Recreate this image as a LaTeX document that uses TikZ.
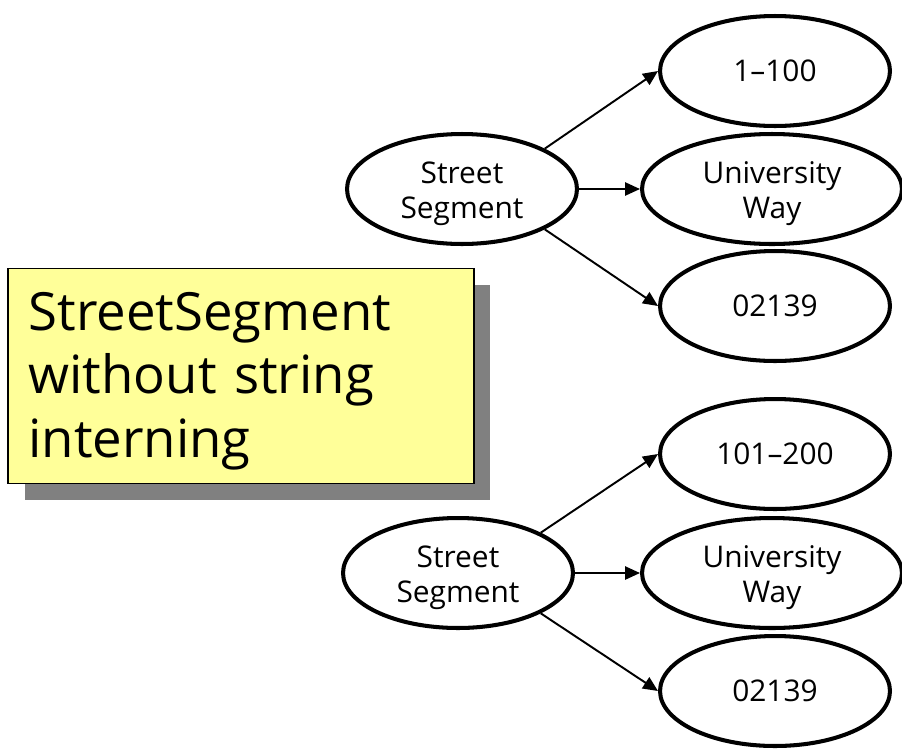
\documentclass[tikz,border=0pt]{standalone}
\usepackage{fontspec}
\setmainfont{Open Sans}
\usetikzlibrary{shapes.geometric,arrows.meta,shadows}
\definecolor{notey}{RGB}{255,255,153}
\definecolor{shadowgray}{RGB}{128,128,128}
\tikzset{
  oval/.style={ellipse, draw, line width=2.3pt, inner sep=0pt, minimum width=4.6cm, minimum height=2.2cm, align=center, font=\fontsize{17}{20}\selectfont},
  wideoval/.style={oval, minimum width=5.2cm},
  ovaltext/.style={align=center, font=\fontsize{17}{20}\selectfont, inner sep=0pt, yshift=-0.1cm},
  conn/.style={line width=1.1pt, -{Triangle[length=8.5pt,width=7.5pt]}},
  note/.style={rectangle, draw, line width=1pt, fill=notey, minimum width=9.32cm, minimum height=4.3cm, inner sep=0pt,
    general shadow={fill=shadowgray, draw=none, shadow xshift=0.33cm, shadow yshift=-0.33cm}},
  notetext/.style={text width=8.5cm, align=left, inner sep=0pt, font=\fontsize{30}{36}\selectfont}
}
\begin{document}
\begin{tikzpicture}[x=0.02cm,y=-0.02cm]
\useasboundingbox (0,0) rectangle (902,751);
% note
\node[note] (box) at (241,376) {};
\node[notetext] (boxtext) at ([yshift=-0.1cm]box.center) {StreetSegment\\without string\\interning};
% top group
\node[oval, label={[ovaltext]center:Street\\Segment}] (s1) at (462,189) {};
\node[oval] (a1) at (775,71) {1–100};
\node[wideoval, label={[ovaltext]center:University\\Way}] (b1) at (772,189) {};
\node[oval] (c1) at (775,306) {02139};
\draw[conn] (s1.north east) -- (a1.west);
\draw[conn] (s1.east) -- (b1.west);
\draw[conn] (s1.south east) -- (c1.west);
% bottom group
\node[oval, label={[ovaltext]center:Street\\Segment}] (s2) at (458,573) {};
\node[oval] (a2) at (775,454) {101–200};
\node[wideoval, label={[ovaltext]center:University\\Way}] (b2) at (772,573) {};
\node[oval] (c2) at (775,691) {02139};
\draw[conn] (s2.north east) -- (a2.west);
\draw[conn] (s2.east) -- (b2.west);
\draw[conn] (s2.south east) -- (c2.west);
\end{tikzpicture}
\end{document}
